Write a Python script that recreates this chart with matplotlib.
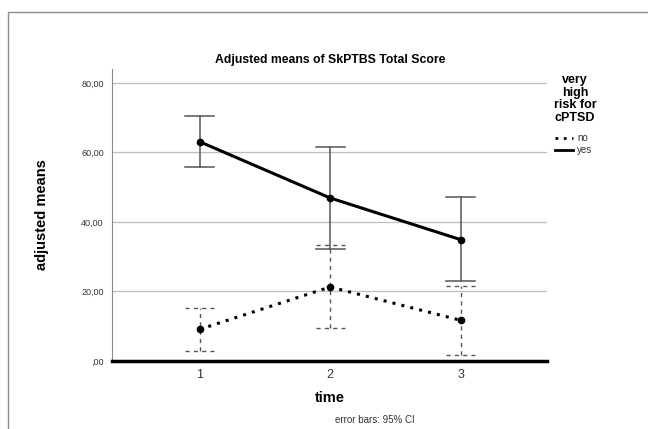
import matplotlib
matplotlib.use("Agg")
import matplotlib.pyplot as plt
from matplotlib.patches import Rectangle
from matplotlib.lines import Line2D

# Data
time_points = [1, 2, 3]
yes_means = [63.1, 46.9, 34.9]
yes_lower = [55.7, 32.2, 22.9]
yes_upper = [70.6, 61.6, 47.2]
no_means = [9.1, 21.3, 11.7]
no_lower = [3.0, 9.6, 1.8]
no_upper = [15.2, 33.4, 21.6]
y_ticks = [0, 20, 40, 60, 80]
y_tick_labels = [",00", "20,00", "40,00", "60,00", "80,00"]

plt.rcParams['font.family'] = ['Liberation Sans', 'DejaVu Sans']

fig = plt.figure(figsize=(6.48, 4.29), dpi=100)
W, H = 648, 429

# gray outer frame
fig.patches.append(Rectangle((8 / W, -0.1), 1.0, (H - 12) / H + 0.1,
                             transform=fig.transFigure, fill=False,
                             edgecolor='#8c8c8c', linewidth=1.0))

ax = fig.add_axes([112 / W, (H - 361) / H, (547 - 112) / W, (361 - 69) / H])
ax.set_xlim(0.33, 3.66)
ax.set_ylim(0, 84)

# grid lines
for t in y_ticks[1:]:
    ax.axhline(t, color='#bdbdbd', linewidth=0.9, zorder=0)

for s in ['top', 'right']:
    ax.spines[s].set_visible(False)
ax.spines['left'].set_color('#8c8c8c')
ax.spines['left'].set_linewidth(0.8)
ax.spines['bottom'].set_color('black')
ax.spines['bottom'].set_linewidth(2.5)

# error bars - yes (solid)
for x, lo, hi in zip(time_points, yes_lower, yes_upper):
    ax.plot([x, x], [lo, hi], color='#555555', linewidth=1.1, zorder=2)
    for yv in (lo, hi):
        ax.plot([x - 0.11, x + 0.11], [yv, yv], color='#555555', linewidth=1.1, zorder=2)

# error bars - no (dashed)
for x, lo, hi in zip(time_points, no_lower, no_upper):
    ax.plot([x, x], [lo, hi], color='#555555', linewidth=1.0,
            linestyle=(0, (3, 3)), zorder=2)
    for yv in (lo, hi):
        ax.plot([x - 0.11, x + 0.11], [yv, yv], color='#555555', linewidth=1.0,
                linestyle=(0, (3, 3)), zorder=2)

ax.plot(time_points, yes_means, color='black', linewidth=2.2, marker='o',
        markersize=4.5, zorder=3)
ax.plot(time_points, no_means, color='black', linewidth=2.2, linestyle=(0, (1, 2)),
        marker='o', markersize=4.5, zorder=3)

ax.set_yticks(y_ticks)
ax.set_yticklabels(y_tick_labels, fontsize=6.5, color='#333333')
ax.set_xticks(time_points)
ax.set_xticklabels([str(t) for t in time_points], fontsize=9, color='#333333')
ax.tick_params(axis='both', length=0, pad=6)

ax.set_ylabel("adjusted means", fontsize=10.5, fontweight='bold')
ax.yaxis.set_label_coords((49 - 112) / (547 - 112), 0.5)
fig.text(330 / W, 1 - 398 / H, "time", fontsize=10.5, fontweight='bold',
         ha='center', va='center')
fig.text(375 / W, 1 - 420 / H, "error bars: 95% CI", fontsize=7,
         ha='center', va='center', color='#333333')
fig.text(330 / W, 1 - 60 / H, "Adjusted means of SkPTBS Total Score",
         fontsize=8.8, fontweight='bold', ha='center', va='center')

# legend
fig.text(575 / W, 1 - 99 / H, "very\nhigh\nrisk for\ncPTSD", fontsize=9,
         fontweight='bold', ha='center', va='center', linespacing=1.1)
fig.lines.append(Line2D([555 / W, 573 / W], [1 - 138 / H] * 2, transform=fig.transFigure,
                        color='black', linewidth=2, linestyle=(0, (1, 2))))
fig.lines.append(Line2D([555 / W, 573 / W], [1 - 150 / H] * 2, transform=fig.transFigure,
                        color='black', linewidth=2))
fig.text(577 / W, 1 - 138 / H, "no", fontsize=7, va='center', color='#333333')
fig.text(577 / W, 1 - 150 / H, "yes", fontsize=7, va='center', color='#333333')

fig.savefig("out.png", dpi=100)
